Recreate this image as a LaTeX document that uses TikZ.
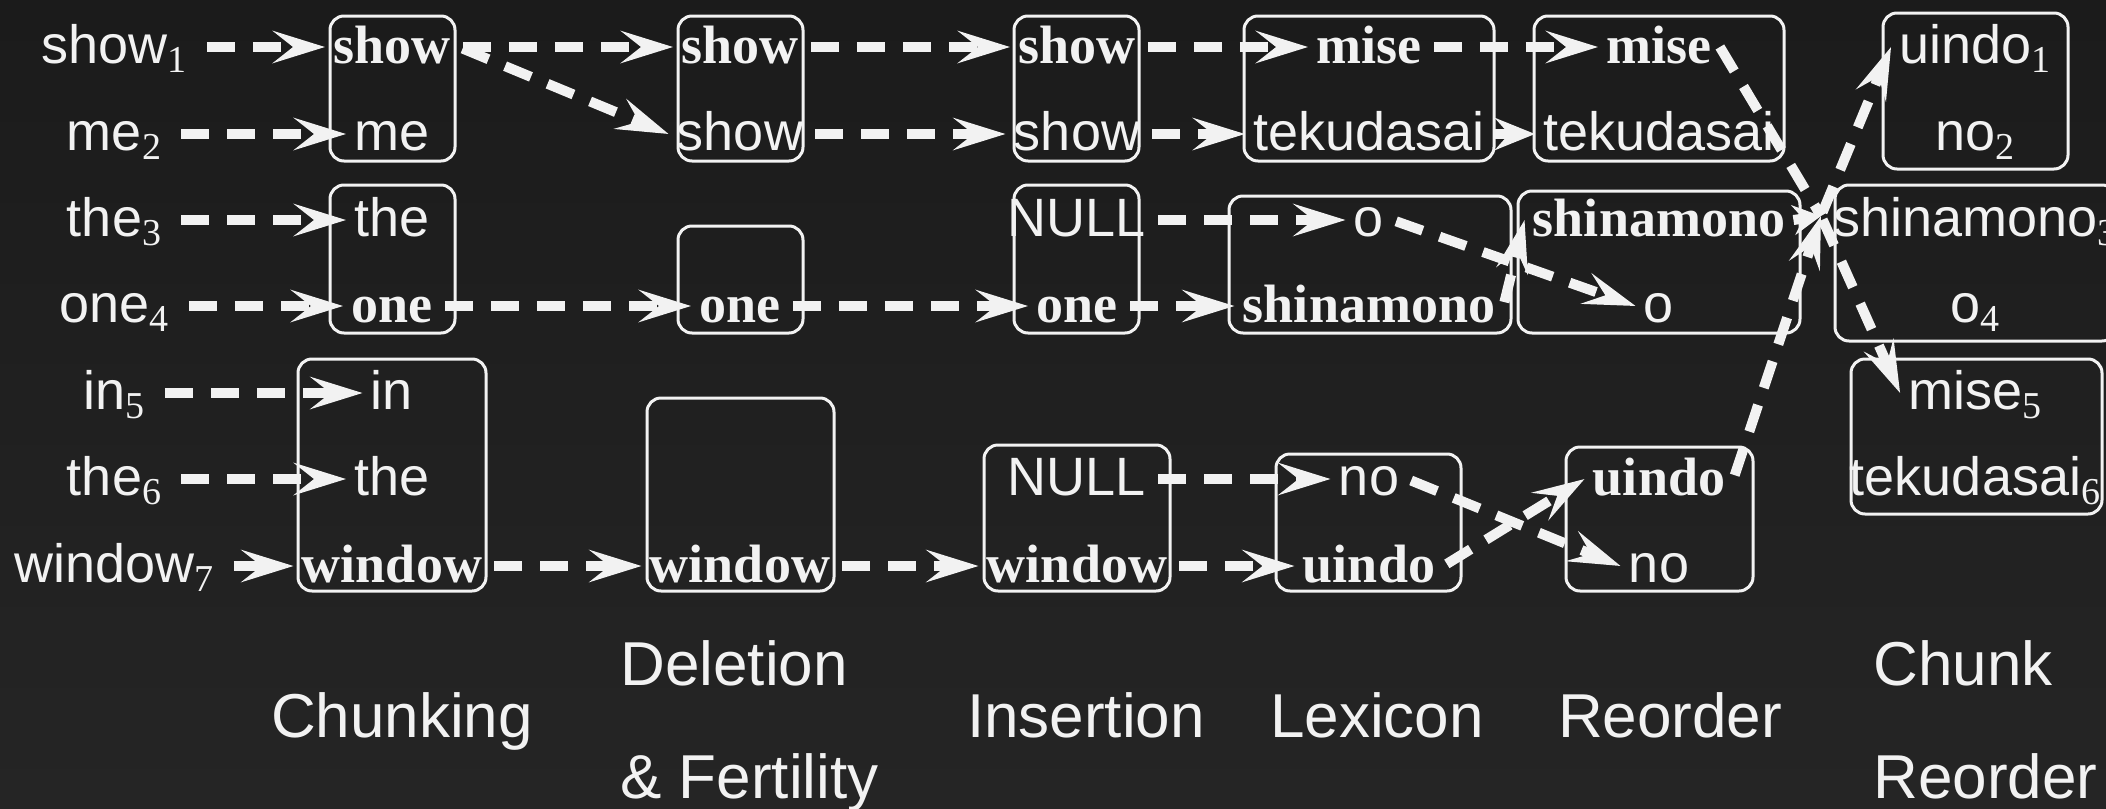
\documentclass[tikz,border=0pt]{standalone}
\usepackage{fontspec}
\setmainfont{Liberation Sans}
\newfontfamily\timesf{Liberation Serif}
\usetikzlibrary{arrows.meta}
\definecolor{bgtop}{HTML}{1B1B1B}
\definecolor{bgbot}{HTML}{252525}
\definecolor{fg}{HTML}{F2F2F2}
\newcommand\subx[1]{\raisebox{-4.5pt}{\fontsize{19}{19}\selectfont\timesf #1}}
\newcommand\bw[1]{{\timesf\bfseries #1}}
\begin{document}
\begin{tikzpicture}[x=0.5pt,y=-0.5pt,
  wd/.style={anchor=base, inner sep=4pt, text height=20pt, text depth=4pt,
             font=\fontsize{27}{30}\selectfont, text=fg},
  lbl/.style={anchor=base, inner sep=0pt, font=\fontsize{31}{34}\selectfont, text=fg},
  boxst/.style={draw=fg, line width=1.5pt, rounded corners=7pt},
  dline/.style={draw=fg, line width=5pt, dash pattern=on 14pt off 9pt},
  arr/.style={dline, shorten <=2pt, -{Stealth[length=26pt,width=16pt,inset=10pt]}},
  sarr/.style={dline, -{Stealth[length=14pt,width=15pt,inset=5pt]}},
  marr/.style={dline, -{Stealth[length=20pt,width=16pt,inset=7pt]}}]
\useasboundingbox (0,0) rectangle (2106,809);
\fill[top color=bgtop, bottom color=bgbot] (0,0) rectangle (2106,809);

% boxes
\draw[boxst] (330,16) rectangle (455,161);
\draw[boxst] (330,185) rectangle (455,333);
\draw[boxst] (298,359) rectangle (486,591);
\draw[boxst] (678,16) rectangle (803,161);
\draw[boxst] (678,226) rectangle (803,333);
\draw[boxst] (647,398) rectangle (834,591);
\draw[boxst] (1014,16) rectangle (1139,161);
\draw[boxst] (1014,185) rectangle (1139,333);
\draw[boxst] (984,445) rectangle (1170,591);
\draw[boxst] (1244,16) rectangle (1494,161);
\draw[boxst] (1229,196) rectangle (1511,333);
\draw[boxst] (1276,454) rectangle (1461,591);
\draw[boxst] (1534,16) rectangle (1784,161);
\draw[boxst] (1518,191) rectangle (1800,333);
\draw[boxst] (1566,447) rectangle (1753,591);
\draw[boxst] (1883,13) rectangle (2068,169);
\draw[boxst] (1835,185) rectangle (2116,341);
\draw[boxst] (1851,359) rectangle (2102,514);

% source words
\node[wd] (s1) at (114,63) {show\subx{1}};
\node[wd] (s2) at (114,150) {me\subx{2}};
\node[wd] (s3) at (114,236) {the\subx{3}};
\node[wd] (s4) at (114,322) {one\subx{4}};
\node[wd] (s5) at (114,409) {in\subx{5}};
\node[wd] (s6) at (114,495) {the\subx{6}};
\node[wd] (s7) at (114,582) {window\subx{7}};

% chunking
\node[wd] (c1) at (392,63) {\bw{show}};
\node[wd] (c2) at (392,150) {me};
\node[wd] (c3) at (392,236) {the};
\node[wd] (c4) at (392,322) {\bw{one}};
\node[wd] (c5) at (392,409) {in};
\node[wd] (c6) at (392,495) {the};
\node[wd] (c7) at (392,582) {\bw{window}};

% deletion
\node[wd] (d1) at (740,63) {\bw{show}};
\node[wd] (d2) at (740,150) {show};
\node[wd] (d4) at (740,322) {\bw{one}};
\node[wd] (d7) at (740,582) {\bw{window}};

% insertion
\node[wd] (i1) at (1077,63) {\bw{show}};
\node[wd] (i2) at (1077,150) {show};
\node[wd] (i3) at (1077,236) {NULL};
\node[wd] (i4) at (1077,322) {\bw{one}};
\node[wd] (i6) at (1077,495) {NULL};
\node[wd] (i7) at (1077,582) {\bw{window}};

% lexicon
\node[wd] (l1) at (1369,63) {\bw{mise}};
\node[wd] (l2) at (1369,150) {tekudasai};
\node[wd] (l3) at (1369,236) {o};
\node[wd] (l4) at (1369,322) {\bw{shinamono}};
\node[wd] (l6) at (1369,495) {no};
\node[wd] (l7) at (1369,582) {\bw{uindo}};

% reorder
\node[wd] (r1) at (1659,63) {\bw{mise}};
\node[wd] (r2) at (1659,150) {tekudasai};
\node[wd] (r3) at (1659,236) {\bw{shinamono}};
\node[wd] (r4) at (1659,322) {o};
\node[wd] (r6) at (1659,495) {\bw{uindo}};
\node[wd] (r7) at (1659,582) {no};

% chunk reorder
\node[wd] (k1) at (1975,63) {uindo\subx{1}};
\node[wd] (k2) at (1975,150) {no\subx{2}};
\node[wd] (k3) at (1975,236) {shinamono\subx{3}};
\node[wd] (k4) at (1975,322) {o\subx{4}};
\node[wd] (k5) at (1975,409) {mise\subx{5}};
\node[wd] (k6) at (1975,495) {tekudasai\subx{6}};

\coordinate (P) at (1821,216);

% connectors
\foreach \i in {1,...,7} { \draw[arr, shorten <=6pt] (s\i.east) -- (c\i.west); }
\draw[arr] (c1.east) -- (d1.west);
\draw[arr] (c1.east) -- (d2.west);
\draw[arr] (c4.east) -- (d4.west);
\draw[arr] (c7.east) -- (d7.west);
\draw[arr] (d1.east) -- (i1.west);
\draw[arr] (d2.east) -- (i2.west);
\draw[arr] (d4.east) -- (i4.west);
\draw[arr] (d7.east) -- (i7.west);
\draw[arr] (i1.east) -- (l1.west);
\draw[arr] (i2.east) -- (l2.west);
\draw[arr] (i3.east) -- (l3.west);
\draw[arr] (i4.east) -- (l4.west);
\draw[arr] (i6.east) -- (l6.west);
\draw[arr] (i7.east) -- (l7.west);
\draw[arr] (l1.east) -- (r1.west);
\draw[marr] (l2.east) -- (r2.west);
\draw[arr] (l3.east) -- (r4.west);
\draw[arr] (l4.east) -- (r3.west);
\draw[arr] (l6.east) -- (r7.west);
\draw[arr] (l7.east) -- (r6.west);
\draw[dline] (r1.east) -- (P);
\draw[sarr] (r3.east) -- (P);
\draw[arr] (r6.east) -- (P);
\draw[arr] (P) -- (k1.west);
\draw[arr] (P) -- (k5.west);

% stage labels
\node[lbl] (L1) at (402,737) {Chunking};
\node[lbl, anchor=base west] (L2a) at (620,685) {Deletion};
\node[lbl, anchor=base west] (L2b) at (620,798) {\& Fertility};
\node[lbl] (L3) at (1086,737) {Insertion};
\node[lbl] (L4) at (1377,737) {Lexicon};
\node[lbl] (L5) at (1670,737) {Reorder};
\node[lbl, anchor=base west] (L6a) at (1873,685) {Chunk};
\node[lbl, anchor=base west] (L6b) at (1873,798) {Reorder};
\end{tikzpicture}
\end{document}
